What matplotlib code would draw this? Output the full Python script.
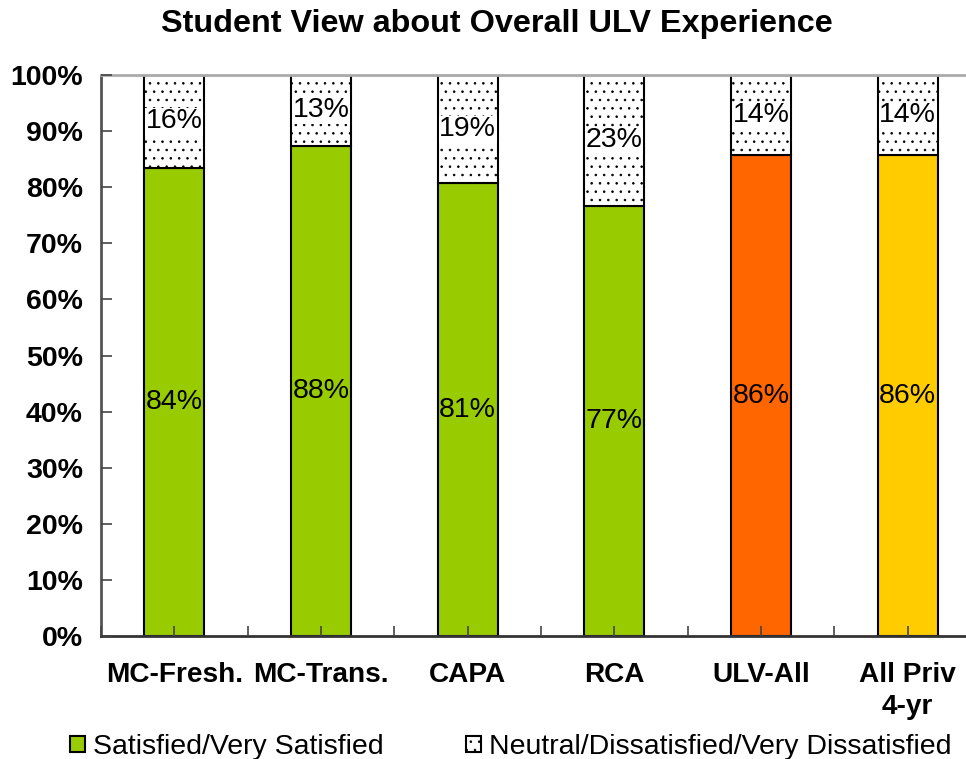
import matplotlib.pyplot as plt

plt.rcParams['font.family'] = ['Liberation Sans', 'DejaVu Sans']

# data
groups = ["MC-Fresh.", "MC-Trans.", "CAPA", "RCA", "ULV-All", "All Priv\n4-yr"]
satisfied = [83.5, 87.4, 80.7, 76.7, 85.7, 85.7]
neutral = [16.5, 12.6, 19.3, 23.3, 14.3, 14.3]
sat_labels = ["84%", "88%", "81%", "77%", "86%", "86%"]
neu_labels = ["16%", "13%", "19%", "23%", "14%", "14%"]
bar_colors = ["#99CC00", "#99CC00", "#99CC00", "#99CC00", "#FF6600", "#FFCC00"]

plt.rcParams['hatch.linewidth'] = 0.6
plt.rcParams['hatch.color'] = '#333333'

fig = plt.figure(figsize=(9.66, 7.59), dpi=100)
# axes run a bit past the right edge like the original
ax = fig.add_axes([101 / 966, 1 - 636 / 759, 880 / 966, 561 / 759])

x = list(range(len(groups)))
w = 0.41
b1 = ax.bar(x, satisfied, width=w, color=bar_colors, edgecolor='black', linewidth=1.5, zorder=2)
b2 = ax.bar(x, neutral, width=w, bottom=satisfied, color='white', edgecolor='black',
            hatch='..', linewidth=1.5, zorder=2)

for i in x:
    ax.text(i, satisfied[i] / 2, sat_labels[i], ha='center', va='center',
            fontsize=20.5, zorder=5)
    ax.text(i, satisfied[i] + neutral[i] / 2, neu_labels[i], ha='center', va='center',
            fontsize=20.5, zorder=5, bbox=dict(facecolor='white', edgecolor='none', pad=0.5))

ax.set_xlim(-0.5, len(groups) - 0.5)
ax.set_ylim(0, 100)
ax.set_yticks(range(0, 101, 10))
ax.set_yticklabels([f"{v}%" for v in range(0, 101, 10)], fontsize=20.5, fontweight='bold')
ax.set_xticks([i - 0.5 for i in range(len(groups) + 1)])
ax.set_xticklabels([])
ax.set_xticks(x, minor=True)
ax.set_xticklabels(groups, minor=True, fontsize=20.2, fontweight='bold', linespacing=1.3)
ax.tick_params(axis='y', direction='in', length=8, width=1.2, color='#444444', pad=13)
ax.tick_params(axis='x', which='both', direction='in', length=7, width=1.2, color='#444444')
ax.tick_params(axis='x', which='minor', pad=19)
ax.set_axisbelow(False)

ax.spines['right'].set_visible(False)
ax.spines['top'].set_color('#aaaaaa')
ax.spines['top'].set_linewidth(2)
ax.spines['left'].set_color('#555555')
ax.spines['left'].set_linewidth(2)
ax.spines['bottom'].set_color('#333333')
ax.spines['bottom'].set_linewidth(2)

fig.suptitle("Student View about Overall ULV Experience", x=0.514, y=0.988,
             fontsize=23.3, fontweight='bold')

leg = fig.legend([b1[0], b2[0]], ["Satisfied/Very Satisfied", "Neutral/Dissatisfied/Very Dissatisfied"],
                 loc='lower center', bbox_to_anchor=(0.529, -0.035), ncol=2, frameon=False,
                 fontsize=20.5, handlelength=0.5, handleheight=0.5, handletextpad=0.3,
                 columnspacing=2.9)

fig.savefig("out.png", dpi=100)
